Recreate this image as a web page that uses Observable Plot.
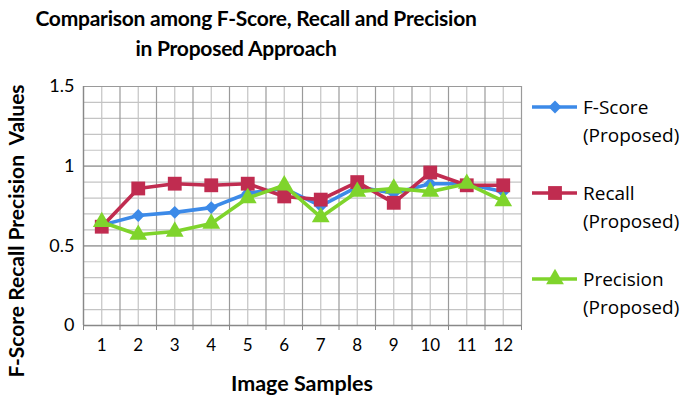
<!DOCTYPE html>
<html><head><meta charset="utf-8">
<script src="https://cdn.jsdelivr.net/npm/d3@7"></script>
<script src="https://cdn.jsdelivr.net/npm/@observablehq/plot@0.6"></script>
<style>
body{margin:0;background:#fff;}
#wrap{position:relative;width:685px;height:401px;font-family:Lato,"Open Sans",sans-serif;overflow:hidden;background:#fff;color:#000;}
.t{position:absolute;white-space:nowrap;font-weight:bold;z-index:2;}
#plot{position:absolute;left:0;top:70px;z-index:1;}
#legend{position:absolute;left:528px;top:0;width:157px;height:401px;}
</style></head>
<body>
<div id="wrap">
  <div id="plot"></div>
  <div id="legend"></div>
  <div class="t" id="title1" style="left:256px;top:4px;font-size:21px;line-height:28px;letter-spacing:-0.25px;transform:translateX(-50%);">Comparison among F-Score, Recall and Precision</div>
  <div class="t" id="title2" style="left:236px;top:34px;font-size:21px;line-height:28px;letter-spacing:-0.25px;transform:translateX(-50%);">in Proposed Approach</div>
  <div class="t" id="ytitle" style="left:15px;top:231px;font-size:21px;transform:translate(-50%,-50%) rotate(-90deg);">F-Score Recall Precision&nbsp; Values</div>
  <div class="t" id="xtitle" style="left:302px;top:383px;font-size:21.5px;transform:translate(-50%,-50%);">Image Samples</div>
</div>
<script>
const samples = [1,2,3,4,5,6,7,8,9,10,11,12];
const fScore    = [0.63,0.69,0.71,0.74,0.83,0.86,0.75,0.87,0.83,0.89,0.89,0.84];
const recall    = [0.62,0.86,0.89,0.88,0.89,0.81,0.79,0.90,0.77,0.96,0.88,0.88];
const precision = [0.65,0.57,0.59,0.64,0.80,0.88,0.68,0.84,0.86,0.84,0.89,0.78];
const seriesNames = ["F-Score", "Recall", "Precision"];
const seriesSub = "(Proposed)";
const seriesColors = ["#3c8ae8", "#c02c50", "#7fd42c"];
const seriesSymbols = ["diamond2", "square", "triangle"];
const seriesR = [5.8, 7.8, 6.6];
const yTicks = [0, 0.5, 1, 1.5];
const yMinor = d3.range(0, 16).map(i => i / 10);
const boundaries = [0.5, ...samples.map(s => s + 0.5)];

const allValues = [fScore, recall, precision];
const rows = samples.flatMap((s, i) => seriesNames.map((n, k) => ({sample: s, series: n, value: allValues[k][i]})));

const seriesMarks = seriesNames.flatMap((n, k) => {
  const d = rows.filter(r => r.series === n);
  return [
    Plot.line(d, {x: "sample", y: "value", stroke: seriesColors[k], strokeWidth: 3.6}),
    Plot.dot(d, {x: "sample", y: "value", symbol: () => seriesSymbols[k], fill: seriesColors[k], stroke: "none", r: seriesR[k]})
  ];
});

const chart = Plot.plot({
  width: 530,
  height: 300,
  marginLeft: 83,
  marginRight: 9,
  marginTop: 16,
  marginBottom: 45,
  style: {fontFamily: "Lato, sans-serif", fontSize: "16px", color: "#000", background: "transparent", overflow: "visible"},
  symbol: {type: "identity"},
  x: {type: "linear", domain: [0.5, 12.5], label: null},
  y: {domain: [0, 1.5], label: null},
  marks: [
    Plot.ruleY(yMinor, {stroke: "#c4c4c4", strokeWidth: 1.2}),
    Plot.ruleX(samples, {stroke: "#c4c4c4", strokeWidth: 1.2}),
    Plot.ruleY(yTicks, {stroke: "#9a9a9a", strokeWidth: 1.2}),
    Plot.ruleX(boundaries, {stroke: "#9a9a9a", strokeWidth: 1.2}),
    Plot.ruleX([0.5], {stroke: "#888", strokeWidth: 1.3}),
    Plot.ruleY([0], {stroke: "#888", strokeWidth: 1.3}),
    Plot.axisX({ticks: boundaries, tickSize: 5, tickFormat: () => "", stroke: "#888", label: null}),
    Plot.axisX({ticks: samples, tickSize: 0, tickPadding: 13, tickFormat: d => String(d), fontSize: 17, label: null}),
    Plot.axisY({ticks: yTicks, tickSize: 0, tickPadding: 9, tickFormat: d => String(d), fontSize: 18, label: null}),
    ...seriesMarks
  ]
});
document.getElementById("plot").appendChild(chart);

// legend
const legY = [107, 193, 279];
const lg = d3.select("#legend").append("svg").attr("width", 157).attr("height", 401);
seriesNames.forEach((n, k) => {
  const g = lg.append("g").attr("transform", `translate(0,${legY[k]})`);
  g.append("line").attr("x1", 4).attr("x2", 49).attr("y1", 0).attr("y2", 0)
    .attr("stroke", seriesColors[k]).attr("stroke-width", 3.6);
  g.append("path").attr("transform", "translate(27,0)")
    .attr("d", d3.symbol(seriesSymbols[k] === "diamond2" ? d3.symbolDiamond2 : seriesSymbols[k] === "square" ? d3.symbolSquare : d3.symbolTriangle, Math.PI * seriesR[k] * seriesR[k])())
    .attr("fill", seriesColors[k]);
  g.append("text").attr("x", 55).attr("y", 0).attr("dy", "0.35em")
    .style("font-family", "'Open Sans', sans-serif").style("font-size", "19px").text(n);
  g.append("text").attr("x", 55).attr("y", 28).attr("dy", "0.35em")
    .style("font-family", "'Open Sans', sans-serif").style("font-size", "19px").text(seriesSub);
});
</script>
</body></html>
